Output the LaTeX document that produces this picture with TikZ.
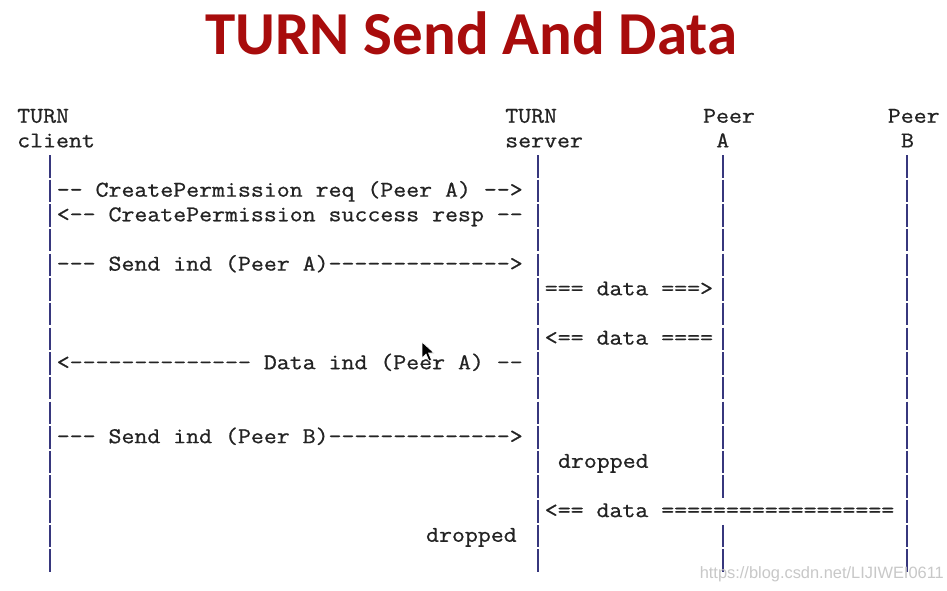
\documentclass[tikz,border=0pt]{standalone}
\usepackage{fontspec}
\newfontfamily\mono{Latin Modern Mono}[FakeStretch=1.117,FakeBold=0.8]
\newfontfamily\titlefont{Carlito}
\newfontfamily\wmfont{Liberation Sans}
\definecolor{titlered}{RGB}{168,12,12}
\definecolor{txt}{RGB}{35,35,35}
\definecolor{lane}{RGB}{55,55,125}
\definecolor{wmgray}{RGB}{200,200,200}
\begin{document}
\begin{tikzpicture}[x=1pt,y=-1pt,
  mono/.style={anchor=base west,inner sep=0pt,text=txt,font=\mono\fontsize{22.5}{24}\selectfont},
  lifeline/.style={draw=lane,line width=1.9pt,dash pattern=on 22.5pt off 2.15pt}]
\useasboundingbox[fill=white] (0,0) rectangle (947,591);
% title
\node[anchor=base,inner sep=0pt,text=titlered,font=\titlefont\bfseries\fontsize{61}{61}\selectfont] (title) at (471.5,55) {TURN Send And Data};
% headers
\node[mono] (h1a) at (17.03,122.7) {TURN};
\node[mono] (h1b) at (17.03,147.35) {client};
\node[mono] (h2a) at (505.05,122.7) {TURN};
\node[mono] (h2b) at (505.05,147.35) {server};
\node[mono] (h3a) at (702.9,122.7) {Peer};
\node[mono] (h3b) at (716.1,147.35) {A};
\node[mono] (h4a) at (887.6,122.7) {Peer};
\node[mono] (h4b) at (900.8,147.35) {B};
% lifelines
\coordinate (cTop) at (50,155);   \coordinate (cBot) at (50,571.9);
\coordinate (sTop) at (538.03,155); \coordinate (sBot) at (538.03,571.9);
\coordinate (aTop) at (722.7,155); \coordinate (aMid1) at (722.7,497.95);
\coordinate (aMid2) at (722.7,524.75); \coordinate (aBot) at (722.7,571.9);
\coordinate (bTop) at (907.35,155); \coordinate (bBot) at (907.35,571.9);
\draw[lifeline] (cTop) -- (cBot);
\draw[lifeline] (sTop) -- (sBot);
\draw[lifeline] (aTop) -- (aMid1);
\draw[lifeline] (aMid2) -- (aBot);
\draw[lifeline] (bTop) -- (bBot);
% messages
\node[mono] (m1) at (56.6,196.65) {-- CreatePermission req (Peer A) -->};
\node[mono] (m2) at (56.6,221.3) {<-- CreatePermission success resp --};
\node[mono] (m3) at (56.6,270.6) {--- Send ind (Peer A)-------------->};
\node[mono] (m4) at (544.6,295.25) {=== data ===>};
\node[mono] (m5) at (544.6,344.55) {<== data ====};
\node[mono] (m6) at (56.6,369.2) {<-------------- Data ind (Peer A) --};
\node[mono] (m7) at (56.6,443.15) {--- Send ind (Peer B)-------------->};
\node[mono] (m8) at (557.8,467.8) {dropped};
\node[mono] (m9) at (544.6,517.1) {<== data ==================};
\node[mono] (m10) at (425.9,541.75) {dropped};
% mouse pointer
\filldraw[fill=black,draw=white,line width=0.6pt] (422,342) -- (422,358) -- (426,354) -- (429,361) -- (431.5,360) -- (428.5,353) -- (434,353) -- cycle;
% watermark
\node[anchor=base east,inner sep=0pt,text=wmgray,font=\wmfont\fontsize{16.4}{18}\selectfont] (wm) at (944,578) {https://blog.csdn.net/LIJIWEI0611};
\end{tikzpicture}
\end{document}
